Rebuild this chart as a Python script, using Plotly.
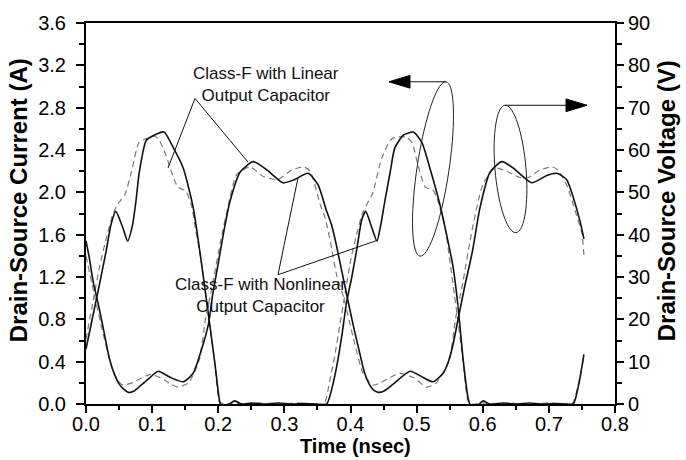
import math
import plotly.graph_objects as go

# ---------------- data ----------------
# Drain-source current, Class-F with NONLINEAR output capacitor (solid), in A
t_i_nl = [0, 0.01, 0.02, 0.03, 0.038, 0.045, 0.0555, 0.063, 0.0706, 0.0756, 0.0806, 0.091, 0.103, 0.118,
          0.133, 0.147, 0.162, 0.174, 0.185, 0.195, 0.203, 0.207, 0.215, 0.225, 0.235, 0.25, 0.27, 0.29,
          0.31, 0.33, 0.35, 0.364, 0.372, 0.379, 0.387, 0.394, 0.402, 0.41, 0.417, 0.423, 0.432, 0.44,
          0.446, 0.452, 0.46, 0.467, 0.48, 0.495, 0.508, 0.52, 0.535, 0.546, 0.555, 0.563, 0.57, 0.578,
          0.582, 0.586, 0.593, 0.601, 0.61, 0.63, 0.65, 0.67, 0.69, 0.71, 0.725, 0.737, 0.745, 0.753]
i_nl = [0.52, 0.82, 1.12, 1.43, 1.70, 1.82, 1.67, 1.54, 1.70, 1.92, 2.19, 2.49, 2.54, 2.57,
        2.41, 2.23, 1.86, 1.36, 0.85, 0.38, 0.0, -0.04, -0.01, 0.03, 0.0, 0.01, 0.0, 0.01,
        0.0, 0.005, 0.0, 0.0, 0.15, 0.35, 0.65, 0.96, 1.2, 1.48, 1.74, 1.82, 1.67, 1.54,
        1.70, 1.92, 2.19, 2.42, 2.54, 2.57, 2.47, 2.23, 1.89, 1.58, 1.30, 0.9, 0.44, 0.05,
        -0.02, -0.04, -0.01, 0.03, 0.0, 0.01, 0.0, 0.01, 0.0, 0.005, 0.0, 0.0, 0.18, 0.47]

# Drain-source current, Class-F with LINEAR output capacitor (dashed), in A
t_i_l = [0, 0.01, 0.02, 0.03, 0.04, 0.047, 0.059, 0.07, 0.08, 0.088, 0.103, 0.11, 0.121, 0.131,
         0.139, 0.151, 0.159, 0.166, 0.174, 0.185, 0.195, 0.202, 0.21, 0.22, 0.24, 0.26, 0.28, 0.30,
         0.32, 0.34, 0.36, 0.368, 0.376, 0.384, 0.392, 0.40, 0.41, 0.418, 0.425, 0.434, 0.447, 0.46,
         0.467, 0.485, 0.493, 0.502, 0.513, 0.525, 0.532, 0.543, 0.55, 0.56, 0.57, 0.578, 0.585, 0.6,
         0.62, 0.64, 0.66, 0.68, 0.70, 0.72, 0.735, 0.745, 0.753]
i_l = [0.61, 0.95, 1.28, 1.55, 1.78, 1.88, 1.98, 2.23, 2.47, 2.50, 2.53, 2.50, 2.35, 2.16,
       2.05, 2.01, 1.89, 1.64, 1.36, 0.85, 0.38, 0.02, 0.0, 0.01, 0.0, 0.01, 0.0, 0.0,
       0.01, 0.0, 0.0, 0.2, 0.45, 0.75, 1.05, 1.35, 1.62, 1.80, 1.89, 2.0, 2.32, 2.49,
       2.52, 2.52, 2.47, 2.26, 2.05, 2.02, 1.92, 1.67, 1.36, 0.9, 0.42, 0.03, 0.0, 0.01,
       0.0, 0.01, 0.0, 0.0, 0.01, 0.0, 0.0, 0.2, 0.45]

# Drain-source voltage, NONLINEAR output capacitor (solid), in V
t_v_nl = [0, 0.005, 0.011, 0.018, 0.026, 0.035, 0.043, 0.05, 0.057, 0.064, 0.072, 0.08, 0.095, 0.109,
          0.128, 0.147, 0.162, 0.174, 0.185, 0.192, 0.2, 0.209, 0.218, 0.233, 0.253, 0.274, 0.298,
          0.315, 0.336, 0.351, 0.364, 0.371, 0.378, 0.387, 0.396, 0.405, 0.414, 0.421, 0.428, 0.435,
          0.442, 0.45, 0.465, 0.49, 0.51, 0.525, 0.54, 0.548, 0.555, 0.563, 0.573, 0.584, 0.596,
          0.611, 0.629, 0.646, 0.674, 0.697, 0.712, 0.727, 0.737, 0.747, 0.753]
v_nl = [38.5, 34.5, 28.75, 24.0, 18.0, 11.0, 7.0, 4.75, 3.5, 2.75, 3.0, 4.0, 6.0, 7.75,
        6.25, 5.25, 7.25, 12.5, 18.75, 26.25, 33.25, 41.25, 48.0, 54.75, 57.25, 55.25, 52.25,
        53.0, 54.5, 51.75, 45.5, 42.5, 38.0, 31.25, 24.5, 18.0, 12.0, 7.5, 4.75, 3.25,
        2.75, 3.0, 4.75, 7.75, 6.25, 5.25, 7.25, 10.0, 14.0, 20.25, 28.0, 35.75, 46.5,
        54.75, 57.25, 55.75, 52.25, 54.0, 54.5, 53.0, 48.75, 43.25, 39.0]

# Drain-source voltage, LINEAR output capacitor (dashed), in V
t_v_l = [0, 0.011, 0.026, 0.041, 0.05, 0.056, 0.07, 0.085, 0.098, 0.115, 0.128, 0.139, 0.155, 0.171,
         0.181, 0.192, 0.203, 0.215, 0.228, 0.248, 0.268, 0.29, 0.311, 0.329, 0.339, 0.354, 0.362,
         0.37, 0.379, 0.39, 0.404, 0.419, 0.434, 0.445, 0.46, 0.475, 0.495, 0.515, 0.53, 0.549,
         0.559, 0.57, 0.581, 0.6, 0.618, 0.636, 0.656, 0.669, 0.686, 0.705, 0.714, 0.727, 0.74,
         0.75, 0.753]
v_l = [35.0, 27.0, 16.5, 7.75, 5.25, 4.5, 5.0, 6.25, 7.0, 6.0, 4.75, 4.0, 5.0, 10.25,
       20.25, 28.75, 38.0, 46.75, 54.25, 56.0, 53.75, 53.0, 55.25, 56.0, 55.0, 47.25, 43.75,
       38.0, 30.5, 25.0, 15.75, 7.25, 4.5, 5.0, 6.25, 7.25, 6.25, 4.0, 5.0, 10.25,
       20.25, 28.75, 38.75, 51.75, 55.75, 55.0, 53.5, 53.5, 55.25, 56.0, 55.25, 51.75, 45.5,
       40.25, 35.0]

x_ticks = [0.0, 0.1, 0.2, 0.3, 0.4, 0.5, 0.6, 0.7, 0.8]
y_ticks = [0.0, 0.4, 0.8, 1.2, 1.6, 2.0, 2.4, 2.8, 3.2, 3.6]
y2_ticks = [0, 10, 20, 30, 40, 50, 60, 70, 80, 90]

# ---------------- layout helpers ----------------
W, H = 686, 460
L, R, T, B = 86, 615, 15, 404
XMAX, YMAX = 0.8, 3.6


def dx(px):
    return (px - L) / (R - L) * XMAX


def dy(py):
    return (B - py) / (B - T) * YMAX


FONT = "Arial, Liberation Sans, Helvetica, sans-serif"
solid = dict(color="#111111", width=1.6, shape="spline", smoothing=0.6)
dashed = dict(color="#7a7a7a", width=1.2, dash="6px,4px", shape="spline", smoothing=0.6)

fig = go.Figure()
fig.add_trace(go.Scatter(x=t_i_l, y=i_l, mode="lines", line=dashed, showlegend=False))
fig.add_trace(go.Scatter(x=t_v_l, y=v_l, mode="lines", line=dashed, yaxis="y2", showlegend=False))
fig.add_trace(go.Scatter(x=t_i_nl, y=i_nl, mode="lines", line=solid, showlegend=False))
fig.add_trace(go.Scatter(x=t_v_nl, y=v_nl, mode="lines", line=solid, yaxis="y2", showlegend=False))

shapes = []
ann_line = dict(color="#111111", width=1)


def seg(p0, p1):
    shapes.append(dict(type="line", xref="x", yref="y", x0=dx(p0[0]), y0=dy(p0[1]),
                       x1=dx(p1[0]), y1=dy(p1[1]), line=ann_line))


# pointer lines
seg((195, 92), (168, 163))
seg((195, 92), (248, 157))
seg((278, 272), (298, 173))
seg((278, 272), (377, 237))


def ellipse(top, bottom, b):
    cx, cy = (top[0] + bottom[0]) / 2, (top[1] + bottom[1]) / 2
    vx, vy = top[0] - cx, top[1] - cy
    a = math.hypot(vx, vy)
    ux, uy = vx / a, vy / a
    px_, py_ = -uy, ux
    pts = []
    for k in range(73):
        th = 2 * math.pi * k / 72
        x = cx + a * math.cos(th) * ux + b * math.sin(th) * px_
        y = cy + a * math.cos(th) * uy + b * math.sin(th) * py_
        pts.append((dx(x), dy(y)))
    path = "M " + " L ".join(f"{x:.5f},{y:.5f}" for x, y in pts) + " Z"
    shapes.append(dict(type="path", xref="x", yref="y", path=path, line=dict(color="#222222", width=1)))


ellipse((446, 75), (420, 253), 16)
ellipse((505, 99), (516, 229), 15.5)


def arrow(x_from, x_tip, y):
    seg((x_from, y), (x_tip, y))
    d = 1 if x_tip > x_from else -1
    base = x_tip - d * 21
    path = (f"M {dx(x_tip):.5f},{dy(y):.5f} L {dx(base):.5f},{dy(y - 6.5):.5f} "
            f"L {dx(base):.5f},{dy(y + 6.5):.5f} Z")
    shapes.append(dict(type="path", xref="x", yref="y", path=path,
                       fillcolor="#000000", line=dict(color="#000000", width=1)))


arrow(446, 389, 75)
arrow(505, 587, 99)

annotations = [
    dict(x=dx(266), y=dy(78), xref="x", yref="y", text="Class-F with Linear<br>Output Capacitor",
         xanchor="center", yanchor="middle",
         showarrow=False, font=dict(family=FONT, size=17, color="#111111"), align="center"),
    dict(x=dx(260), y=dy(293), xref="x", yref="y", text="Class-F with Nonlinear<br>Output Capacitor",
         xanchor="center", yanchor="middle",
         showarrow=False, font=dict(family=FONT, size=17, color="#111111"), align="center"),
    dict(x=(18 - L) / (R - L), y=(B - 196) / (B - T), xref="paper", yref="paper",
         xanchor="center", yanchor="middle",
         text="<b>Drain-Source Current (A)</b>", textangle=-90, showarrow=False,
         font=dict(family=FONT, size=24, color="#000000")),
    dict(x=(666 - L) / (R - L), y=(B - 197) / (B - T), xref="paper", yref="paper",
         xanchor="center", yanchor="middle",
         text="<b>Drain-Source Voltage (V)</b>", textangle=-90, showarrow=False,
         font=dict(family=FONT, size=24, color="#000000")),
    dict(x=(355 - L) / (R - L), y=(B - 447) / (B - T), xref="paper", yref="paper",
         xanchor="center", yanchor="middle",
         text="<b>Time (nsec)</b>", showarrow=False,
         font=dict(family=FONT, size=20, color="#000000")),
]

tickfont = dict(family=FONT, size=20, color="#000000")
fig.update_layout(
    width=W, height=H,
    margin=dict(l=L, r=W - R, t=T, b=H - B, pad=0),
    paper_bgcolor="white", plot_bgcolor="white",
    shapes=shapes, annotations=annotations,
    xaxis=dict(range=[0, XMAX], tickmode="array", tickvals=x_ticks,
               ticktext=[f"{v:.1f}" for v in x_ticks], ticks="outside", ticklen=7, tickwidth=2,
               tickcolor="black", showline=True, linewidth=2, linecolor="black", mirror=True,
               showgrid=False, zeroline=False, tickfont=tickfont, ticklabelstandoff=-6,
               minor=dict(dtick=0.05, tick0=0, ticks="outside", ticklen=4, tickwidth=2,
                          tickcolor="black", showgrid=False)),
    yaxis=dict(range=[0, YMAX], tickmode="array", tickvals=y_ticks,
               ticktext=[f"{v:.1f}" for v in y_ticks], ticks="outside", ticklen=8, tickwidth=2,
               tickcolor="black", showline=True, linewidth=2, linecolor="black",
               showgrid=False, zeroline=False, tickfont=tickfont, ticklabelstandoff=6,
               minor=dict(dtick=0.2, tick0=0, ticks="outside", ticklen=5, tickwidth=2,
                          tickcolor="black", showgrid=False)),
    yaxis2=dict(range=[0, 90], overlaying="y", side="right", tickmode="array", tickvals=y2_ticks,
                ticktext=[str(v) for v in y2_ticks], ticks="outside", ticklen=7, tickwidth=2,
                tickcolor="black", showline=True, linewidth=2, linecolor="black",
                showgrid=False, zeroline=False, tickfont=tickfont,
                minor=dict(dtick=5, tick0=0, ticks="outside", ticklen=5, tickwidth=2,
                           tickcolor="black", showgrid=False)),
)

fig.write_html("out.html")
